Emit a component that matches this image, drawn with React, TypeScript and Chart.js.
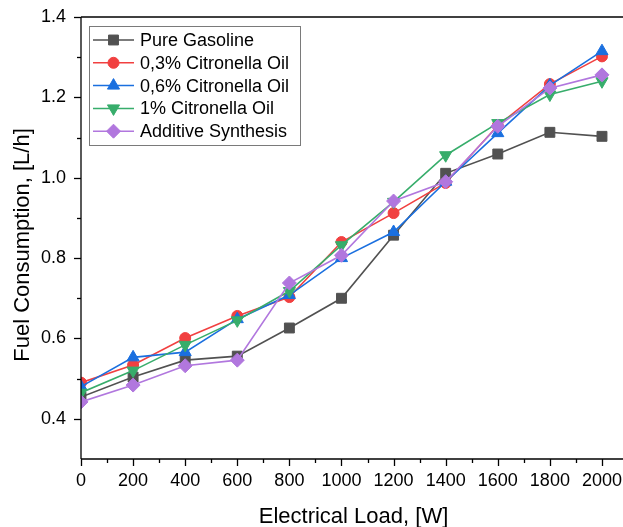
import React, { useEffect, useRef } from "react";
import { Chart, registerables } from "chart.js";

Chart.register(...registerables);

const loads = [0, 200, 400, 600, 800, 1000, 1200, 1400, 1600, 1800, 2000];
const pureGasoline = [0.454, 0.504, 0.546, 0.556, 0.626, 0.7, 0.857, 1.011, 1.059, 1.113, 1.103];
const citronella03 = [0.49, 0.534, 0.601, 0.656, 0.703, 0.84, 0.912, 0.987, 1.13, 1.233, 1.302];
const citronella06 = [0.48, 0.553, 0.566, 0.648, 0.708, 0.8, 0.865, 0.99, 1.111, 1.23, 1.315];
const citronella1 = [0.465, 0.52, 0.584, 0.645, 0.718, 0.832, 0.94, 1.056, 1.136, 1.207, 1.24];
const additive = [0.442, 0.484, 0.532, 0.546, 0.738, 0.807, 0.942, 0.99, 1.128, 1.223, 1.256];

const seriesNames = [
  "Pure Gasoline",
  "0,3% Citronella Oil",
  "0,6% Citronella Oil",
  "1% Citronella Oil",
  "Additive Synthesis",
];
const seriesValues = [pureGasoline, citronella03, citronella06, citronella1, additive];
const seriesColors = ["#515151", "#F14040", "#1A6FDF", "#37AD6B", "#B177DE"];
const seriesStyles = ["rect", "circle", "triangle", "triangle", "rectRot"];
const seriesRotations = [0, 0, 0, 180, 0];
const seriesRadii = [7, 5.5, 7, 7, 7];

const xMajorTicks = [0, 200, 400, 600, 800, 1000, 1200, 1400, 1600, 1800, 2000];
const xMinorTicks = [100, 300, 500, 700, 900, 1100, 1300, 1500, 1700, 1900];
const yMajorTicks = [0.4, 0.6, 0.8, 1.0, 1.2, 1.4];
const yMinorTicks = [0.5, 0.7, 0.9, 1.1, 1.3];

const xTitle = "Electrical Load, [W]";
const yTitle = "Fuel Consumption, [L/h]";

const FONT = "'Liberation Sans', Arial, sans-serif";

function drawMarker(ctx: CanvasRenderingContext2D, style: string, rot: number, x: number, y: number, r: number) {
  ctx.beginPath();
  if (style === "rect") {
    const s = Math.SQRT1_2 * r;
    ctx.rect(x - s, y - s, 2 * s, 2 * s);
  } else if (style === "circle") {
    ctx.arc(x, y, r, 0, Math.PI * 2);
  } else if (style === "triangle") {
    let rad = (rot * Math.PI) / 180;
    ctx.moveTo(x + Math.sin(rad) * r, y - Math.cos(rad) * r);
    rad += (2 * Math.PI) / 3;
    ctx.lineTo(x + Math.sin(rad) * r, y - Math.cos(rad) * r);
    rad += (2 * Math.PI) / 3;
    ctx.lineTo(x + Math.sin(rad) * r, y - Math.cos(rad) * r);
    ctx.closePath();
  } else if (style === "rectRot") {
    ctx.moveTo(x, y - r);
    ctx.lineTo(x + r, y);
    ctx.lineTo(x, y + r);
    ctx.lineTo(x - r, y);
    ctx.closePath();
  }
  ctx.fill();
  ctx.stroke();
}

const decorPlugin = {
  id: "decor",
  afterDraw(chart: any) {
    const { ctx, chartArea: a, scales, width } = chart;
    const x = scales.x;
    const y = scales.y;
    ctx.save();
    const seg = (x1: number, y1: number, x2: number, y2: number) => {
      ctx.beginPath();
      ctx.moveTo(x1, y1);
      ctx.lineTo(x2, y2);
      ctx.stroke();
    };
    ctx.strokeStyle = "#000";
    ctx.lineWidth = 1.3;
    // frame: top, left, bottom (the right side lies beyond the visible page)
    seg(a.left, a.top, width, a.top);
    seg(a.left, a.top, a.left, a.bottom);
    seg(a.left, a.bottom, width, a.bottom);
    xMajorTicks.forEach((v) => {
      const px = Math.round(x.getPixelForValue(v)) + 0.5;
      seg(px, a.bottom, px, a.bottom + 7);
    });
    xMinorTicks.forEach((v) => {
      const px = Math.round(x.getPixelForValue(v)) + 0.5;
      seg(px, a.bottom, px, a.bottom + 4);
    });
    yMajorTicks.forEach((v) => {
      const py = Math.round(y.getPixelForValue(v)) + 0.5;
      seg(a.left, py, a.left - 7, py);
    });
    yMinorTicks.forEach((v) => {
      const py = Math.round(y.getPixelForValue(v)) + 0.5;
      seg(a.left, py, a.left - 4, py);
    });

    // axis titles
    ctx.fillStyle = "#000";
    ctx.font = `22px ${FONT}`;
    ctx.textAlign = "center";
    ctx.textBaseline = "alphabetic";
    ctx.fillText(xTitle, 353.5, 523);
    ctx.save();
    ctx.translate(29, 245);
    ctx.rotate(-Math.PI / 2);
    ctx.fillText(yTitle, 0, 0);
    ctx.restore();

    // legend
    const bx = 89, by = 26, bw = 211, bh = 119;
    ctx.fillStyle = "#fff";
    ctx.fillRect(bx, by, bw, bh);
    ctx.strokeStyle = "#7a7a7a";
    ctx.lineWidth = 1;
    ctx.strokeRect(bx + 0.5, by + 0.5, bw, bh);
    ctx.font = `18px ${FONT}`;
    ctx.textAlign = "left";
    ctx.textBaseline = "middle";
    seriesNames.forEach((name, i) => {
      const ry = 40 + i * 22.8;
      ctx.strokeStyle = seriesColors[i];
      ctx.lineWidth = 1.5;
      seg(93, ry, 134, ry);
      ctx.fillStyle = seriesColors[i];
      ctx.lineWidth = 1;
      drawMarker(ctx, seriesStyles[i], seriesRotations[i], 113.5, ry, seriesRadii[i]);
      ctx.fillStyle = "#000";
      ctx.fillText(name, 140, ry + 1);
    });
    ctx.restore();
  },
};

export default function App() {
  const ref = useRef<HTMLCanvasElement | null>(null);
  useEffect(() => {
    if (!ref.current) return;
    const chart = new Chart(ref.current, {
      type: "line",
      data: {
        datasets: seriesNames.map((name, i) => ({
          label: name,
          data: loads.map((l, j) => ({ x: l, y: seriesValues[i][j] })),
          borderColor: seriesColors[i],
          backgroundColor: seriesColors[i],
          pointBackgroundColor: seriesColors[i],
          pointBorderColor: seriesColors[i],
          pointBorderWidth: 1,
          borderWidth: 1.6,
          pointStyle: seriesStyles[i] as any,
          pointRotation: seriesRotations[i],
          pointRadius: seriesRadii[i],
          tension: 0,
          fill: false,
          order: seriesNames.length - i,
        })),
      },
      options: {
        animation: false,
        responsive: false,
        devicePixelRatio: 1,
        layout: { padding: { left: 0, top: 17, right: 0, bottom: 0 } },
        plugins: { legend: { display: false }, tooltip: { enabled: false }, title: { display: false } },
        scales: {
          x: {
            type: "linear",
            min: 0,
            max: 2050,
            grid: { display: false, drawTicks: false },
            border: { display: false },
            afterBuildTicks: (s: any) => {
              s.ticks = xMajorTicks.map((v) => ({ value: v }));
            },
            afterFit: (s: any) => {
              s.height = 68;
              s.paddingLeft = 0;
              s.paddingRight = 0;
            },
            ticks: {
              padding: 11,
              maxRotation: 0,
              autoSkip: false,
              color: "#000",
              font: { family: FONT, size: 18 },
              callback: (v: any) => String(v),
            },
          },
          y: {
            type: "linear",
            min: 0.3,
            max: 1.4,
            grid: { display: false, drawTicks: false },
            border: { display: false },
            afterBuildTicks: (s: any) => {
              s.ticks = yMajorTicks.map((v) => ({ value: v }));
            },
            afterFit: (s: any) => {
              s.width = 81;
              s.paddingTop = 0;
              s.paddingBottom = 0;
            },
            ticks: {
              padding: 15,
              autoSkip: false,
              color: "#000",
              font: { family: FONT, size: 18 },
              callback: (v: any) => Number(v).toFixed(1),
            },
          },
        },
      },
      plugins: [decorPlugin],
    });
    return () => chart.destroy();
  }, []);
  return (
    <div style={{ position: "fixed", left: 0, top: 0, width: 623, height: 527, overflow: "hidden", background: "#fff" }}>
      <canvas ref={ref} width={623} height={527} style={{ width: 623, height: 527, display: "block" }} />
    </div>
  );
}
